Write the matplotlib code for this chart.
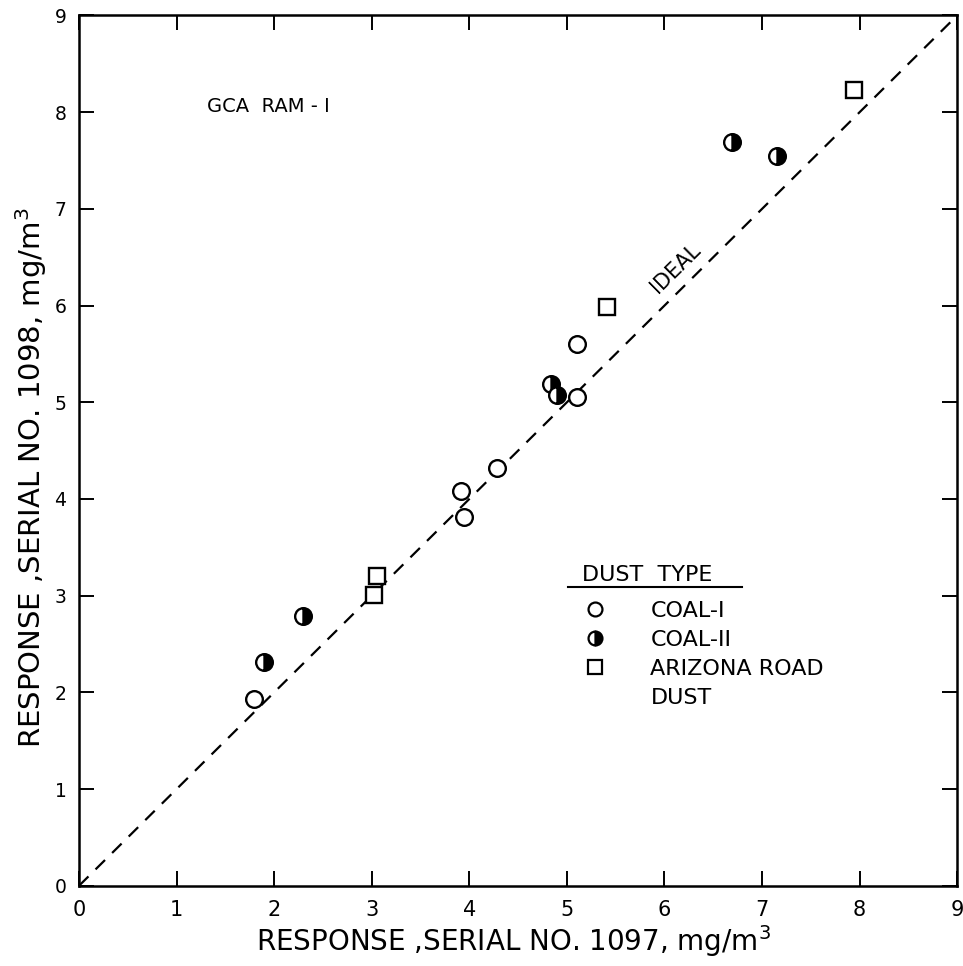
import matplotlib
matplotlib.use("Agg")
import matplotlib.pyplot as plt
from matplotlib.lines import Line2D

plt.rcParams['font.family'] = ['DejaVu Sans']

# Instrument readings, mg/m^3 (x: serial no. 1097, y: serial no. 1098)
coal1_x = [1.79, 3.92, 3.95, 4.28, 5.10, 5.10]
coal1_y = [1.93, 4.08, 3.81, 4.32, 5.60, 5.05]

coal2_x = [1.90, 2.30, 4.84, 4.90, 6.69, 7.15]
coal2_y = [2.31, 2.79, 5.19, 5.08, 7.69, 7.55]

road_x = [3.02, 3.05, 5.41, 7.94]
road_y = [3.01, 3.20, 5.99, 8.23]

ticks = [0, 1, 2, 3, 4, 5, 6, 7, 8, 9]
ideal = [0, 9]
legend_labels = ['COAL-I', 'COAL-II', 'ARIZONA ROAD', 'DUST']

fig = plt.figure(figsize=(9.63, 9.66), dpi=100)
ax = fig.add_axes([0.082, 0.083, 0.912, 0.901])

ax.plot(ideal, ideal, color='black', lw=1.6, dashes=(6, 4.5))

ax.plot(coal1_x, coal1_y, ls='none', marker='o', ms=12, mfc='white',
        mec='black', mew=1.7)
ax.plot(coal2_x, coal2_y, ls='none', marker='o', ms=12, fillstyle='right',
        mfc='black', markerfacecoloralt='white', mec='black', mew=1.7)
ax.plot(road_x, road_y, ls='none', marker='s', ms=12, mfc='white',
        mec='black', mew=1.7)

ax.set_xlim(0, 9)
ax.set_ylim(0, 9)
ax.set_xticks(ticks)
ax.set_yticks(ticks)
ax.tick_params(direction='in', length=11, width=1.4)
ax.tick_params(axis='x', labelsize=15, pad=10)
ax.tick_params(axis='y', labelsize=13.5, pad=9)
ax.tick_params(top=True, right=True)
for s in ax.spines.values():
    s.set_linewidth(1.8)

ax.set_xlabel('RESPONSE ,SERIAL NO. 1097, mg/m$^3$', fontsize=20, va='center')
ax.xaxis.set_label_coords(0.495, -0.063)
ax.set_ylabel('RESPONSE ,SERIAL NO. 1098, mg/m$^3$', fontsize=21, va='center')
ax.yaxis.set_label_coords(-0.054, 0.469)

ax.text(1.31, 8.06, 'GCA  RAM - I', fontsize=14, va='center', ha='left')
ax.text(6.11, 6.39, 'IDEAL', fontsize=15, rotation=44.6, rotation_mode='anchor',
        ha='center', va='center')

# Key: heading with rule, then one row per dust type
ax.text(0.573, 0.357, 'DUST  TYPE', transform=ax.transAxes, fontsize=16,
        ha='left', va='center')
ax.plot([0.557, 0.755], [0.3435, 0.3435], transform=ax.transAxes,
        color='black', lw=1.5)

handles = [
    Line2D([], [], ls='none', marker='o', ms=10, mfc='white', mec='black', mew=1.6),
    Line2D([], [], ls='none', marker='o', ms=10, fillstyle='right', mfc='black',
           markerfacecoloralt='white', mec='black', mew=1.6),
    Line2D([], [], ls='none', marker='s', ms=10, mfc='white', mec='black', mew=1.6),
    Line2D([], [], ls='none', marker=None),
]
ax.legend(handles, legend_labels, loc='upper left',
          bbox_to_anchor=(0.573, 0.327), frameon=False, fontsize=16,
          handlelength=1.17, handletextpad=1.9, labelspacing=0.4,
          borderaxespad=0, borderpad=0)

fig.savefig('out.png', dpi=100, facecolor='white')
